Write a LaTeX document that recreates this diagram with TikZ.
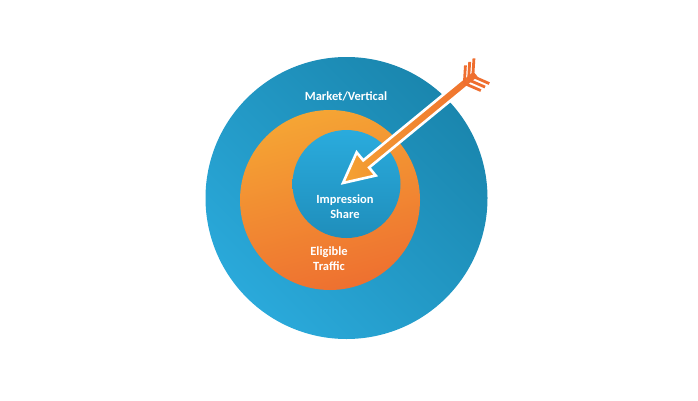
\documentclass[tikz,border=0pt]{standalone}
\usepackage{fontspec}
\setmainfont{Carlito}
\usetikzlibrary{positioning}
\definecolor{outerlight}{HTML}{2AA9DA}
\definecolor{outerdark}{HTML}{1A86AE}
\definecolor{innerlight}{HTML}{2AABDD}
\definecolor{innerdark}{HTML}{1F8EBB}
\definecolor{ringlight}{HTML}{F5A534}
\definecolor{ringdark}{HTML}{EE7030}
\definecolor{arrowlight}{HTML}{F4A232}
\definecolor{arrowdark}{HTML}{EF6E2F}

\begin{document}
\begin{tikzpicture}[
        x=1pt, y=1pt,
        ring label/.style={text=white, align=center, font=\fontsize{12.5}{15}\selectfont\bfseries},
        feather/.style={draw=arrowdark, line width=2.8pt},
        arrow body/.style={left color=arrowlight, right color=arrowdark, draw=white, line width=2.6pt, line join=miter}
      ]
      \useasboundingbox (0,0) rectangle (698,400);

      % Rings
      \shade[top color=outerdark, bottom color=outerlight, shading angle=-45] (346.5,202) circle (141);
      \shade[top color=ringlight, bottom color=ringdark, shading angle=15] (330,200) circle (90);
      \shade[top color=innerlight, bottom color=innerdark] (346.5,216) circle (54);

      % Labels
      \node[ring label] (market) at (346,304) {Market/Vertical};
      \node[ring label] (impression) at (345,193) {Impression\\Share};
      \node[ring label] (eligible) at (329,141) {Eligible\\Traffic};

      % Arrow
      \begin{scope}[shift={(343,217)}, rotate=39.4]
        \shadedraw[arrow body] (0,0) -- (30,15) -- (30,4.6) -- (173,4.6) -- (173,-4.6)
          -- (30,-4.6) -- (30,-15) -- cycle;
        \foreach \a in {157,162.5,168}
          \draw[feather] (\a,0) -- ++(47:18) (\a,0) -- ++(-63:18);
      \end{scope}
    \end{tikzpicture}
\end{document}
